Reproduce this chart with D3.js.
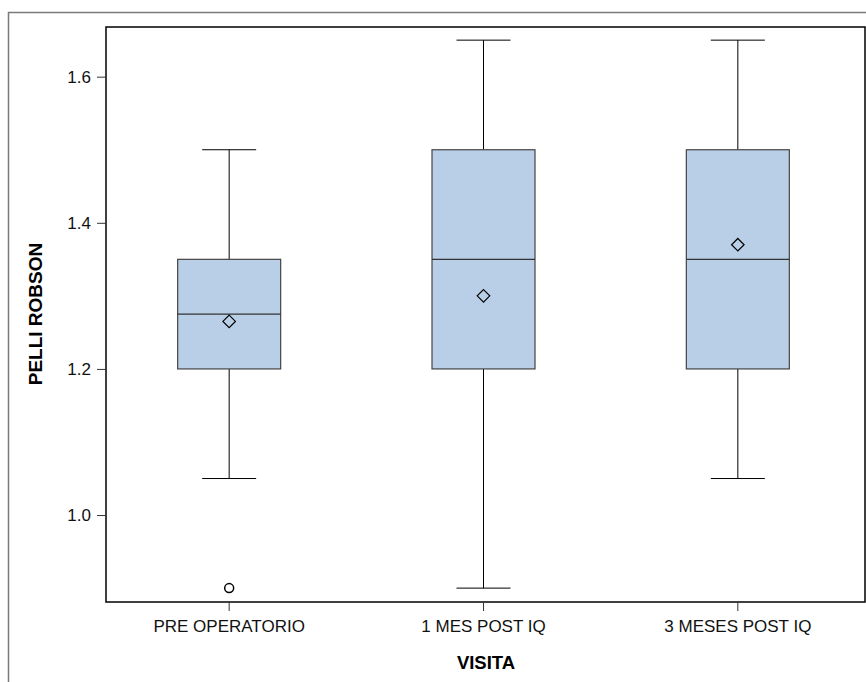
<!DOCTYPE html>
<html>
<head>
<meta charset="utf-8">
<script src="https://cdn.jsdelivr.net/npm/d3@7"></script>
<style>
	body { margin: 0; background: #fff; }
	svg { display: block; font-family: "Liberation Sans", Arial, sans-serif; }
</style>
</head>
<body>
<script>
//box plot of pelli robson by visit
(function () {
	//chart data
	var categories = ["PRE OPERATORIO", "1 MES POST IQ", "3 MESES POST IQ"];
	var whiskerLow = [1.05, 0.9, 1.05];
	var q1 = [1.2, 1.2, 1.2];
	var medians = [1.275, 1.35, 1.35];
	var q3 = [1.35, 1.5, 1.5];
	var whiskerHigh = [1.5, 1.65, 1.65];
	var means = [1.265, 1.30, 1.37];
	var outliers = [[0.9], [], []];
	var yTicks = [1.0, 1.2, 1.4, 1.6];

	var width = 866, height = 682;
	var margin = { left: 106, right: 1, top: 27, bottom: 80 };

	var svg = d3.select("body").append("svg")
		.attr("width", width)
		.attr("height", height);

	//outer frame
	svg.append("rect")
		.attr("x", 8.5).attr("y", 12.5)
		.attr("width", 870).attr("height", 700)
		.attr("fill", "none")
		.attr("stroke", "#7a7a7a")
		.attr("stroke-width", 1.5);

	var x = d3.scaleBand()
		.domain(categories)
		.range([102, width - margin.right]);

	var y = d3.scaleLinear()
		.domain([0.881, 1.668])
		.range([height - margin.bottom, margin.top]);

	var boxW = 103,
		capW = 54;

	var groups = svg.selectAll(".box")
		.data(categories)
		.enter()
		.append("g")
		.attr("class", "box")
		.attr("transform", function (d) {
			return "translate(" + (x(d) + x.bandwidth() / 2) + ",0)";
		});

	//whiskers
	groups.append("line")
		.attr("x1", 0).attr("x2", 0)
		.attr("y1", function (d, i) { return y(whiskerHigh[i]); })
		.attr("y2", function (d, i) { return y(q3[i]); })
		.attr("stroke", "#000");
	groups.append("line")
		.attr("x1", 0).attr("x2", 0)
		.attr("y1", function (d, i) { return y(q1[i]); })
		.attr("y2", function (d, i) { return y(whiskerLow[i]); })
		.attr("stroke", "#000");
	//caps
	groups.append("line")
		.attr("x1", -capW / 2).attr("x2", capW / 2)
		.attr("y1", function (d, i) { return y(whiskerHigh[i]); })
		.attr("y2", function (d, i) { return y(whiskerHigh[i]); })
		.attr("stroke", "#000");
	groups.append("line")
		.attr("x1", -capW / 2).attr("x2", capW / 2)
		.attr("y1", function (d, i) { return y(whiskerLow[i]); })
		.attr("y2", function (d, i) { return y(whiskerLow[i]); })
		.attr("stroke", "#000");

	//boxes
	groups.append("rect")
		.attr("x", -boxW / 2)
		.attr("width", boxW)
		.attr("y", function (d, i) { return y(q3[i]); })
		.attr("height", function (d, i) { return y(q1[i]) - y(q3[i]); })
		.attr("fill", "#b9cfe7")
		.attr("stroke", "#444")
		.attr("stroke-width", 1.2);

	//medians
	groups.append("line")
		.attr("x1", -boxW / 2).attr("x2", boxW / 2)
		.attr("y1", function (d, i) { return y(medians[i]); })
		.attr("y2", function (d, i) { return y(medians[i]); })
		.attr("stroke", "#333")
		.attr("stroke-width", 1.2);

	//means
	groups.append("path")
		.attr("d", d3.symbol().type(d3.symbolDiamond2).size(100))
		.attr("transform", function (d, i) { return "translate(0," + y(means[i]) + ")"; })
		.attr("fill", "none")
		.attr("stroke", "#000")
		.attr("stroke-width", 1.2);

	//outliers
	groups.each(function (d, i) {
		d3.select(this).selectAll(".outlier")
			.data(outliers[i])
			.enter()
			.append("circle")
			.attr("class", "outlier")
			.attr("cx", 0)
			.attr("cy", function (v) { return y(v); })
			.attr("r", 4.5)
			.attr("fill", "none")
			.attr("stroke", "#000")
			.attr("stroke-width", 1.5);
	});

	//plot frame
	svg.append("rect")
		.attr("x", margin.left).attr("y", margin.top)
		.attr("width", width - margin.right - margin.left)
		.attr("height", height - margin.bottom - margin.top)
		.attr("fill", "none")
		.attr("stroke", "#000")
		.attr("stroke-width", 1.5);

	//axes
	var yAxis = svg.append("g")
		.attr("transform", "translate(" + margin.left + ",0)")
		.call(d3.axisLeft(y).tickValues(yTicks).tickFormat(d3.format(".1f")).tickSize(9).tickPadding(6));
	yAxis.select(".domain").remove();

	var xAxis = svg.append("g")
		.attr("transform", "translate(0," + (height - margin.bottom) + ")")
		.call(d3.axisBottom(x).tickSize(9).tickPadding(9));
	xAxis.select(".domain").remove();

	svg.selectAll(".tick text")
		.attr("font-size", 17)
		.attr("fill", "#111");
	svg.selectAll(".tick line").attr("stroke", "#333");

	//axis titles
	svg.append("text")
		.attr("x", 486)
		.attr("y", 669)
		.attr("text-anchor", "middle")
		.attr("font-size", 18.5)
		.attr("font-weight", "bold")
		.text("VISITA");

	svg.append("text")
		.attr("transform", "translate(42," + 314 + ") rotate(-90)")
		.attr("text-anchor", "middle")
		.attr("font-size", 19)
		.attr("font-weight", "bold")
		.text("PELLI ROBSON");
})();
</script>
</body>
</html>
